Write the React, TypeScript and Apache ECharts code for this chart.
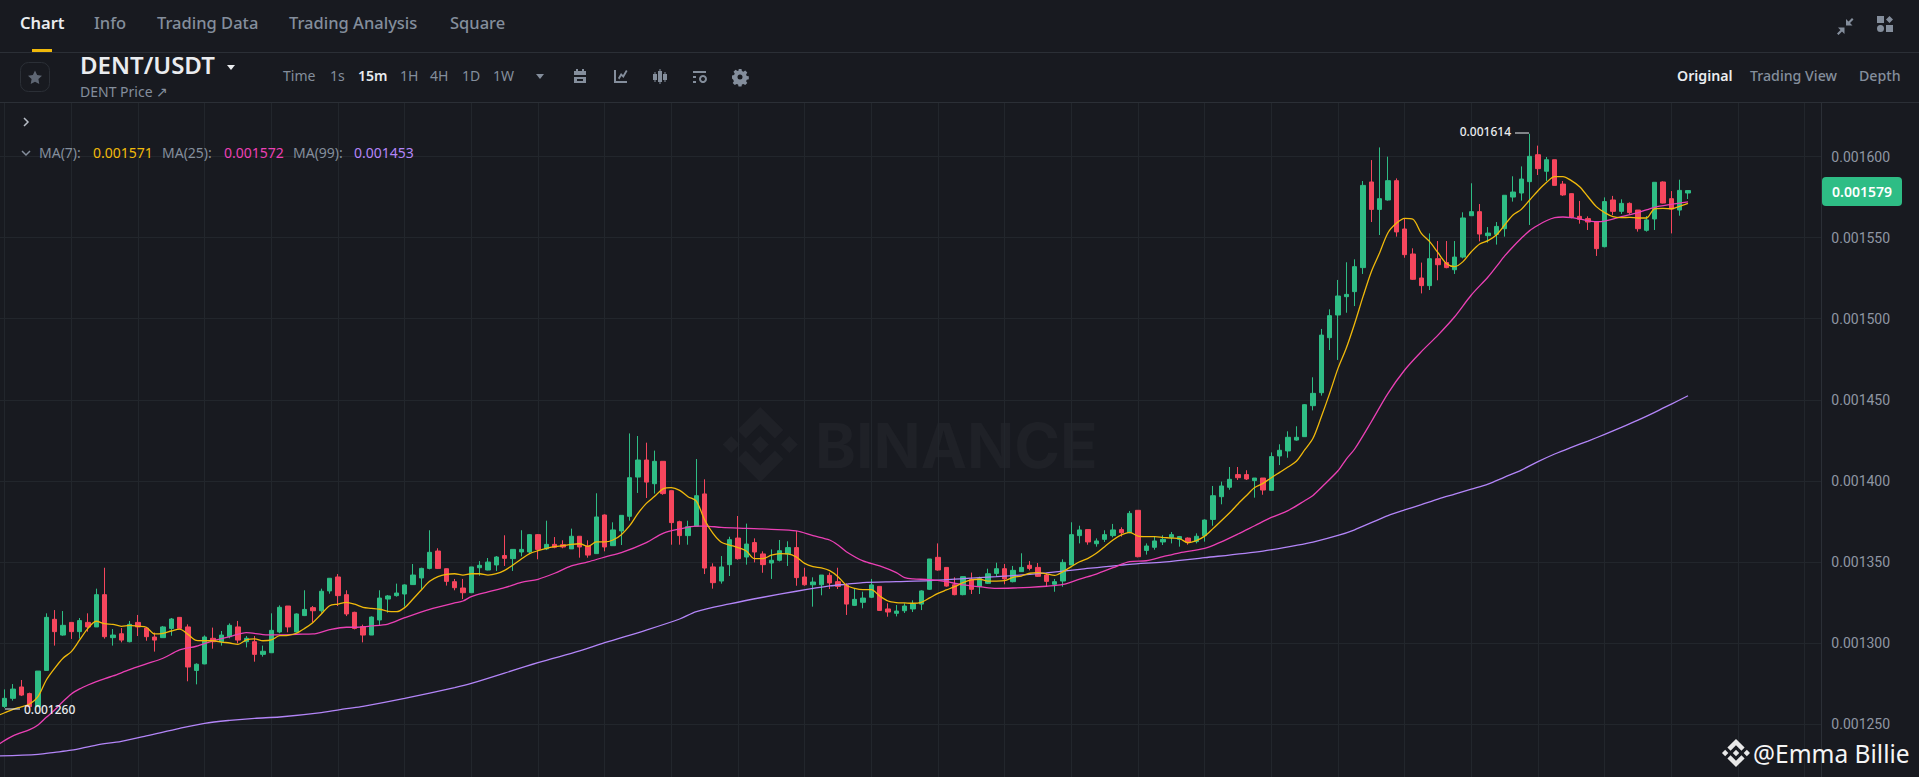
import React, { useEffect, useRef } from "react";
import * as echarts from "echarts";

// Prices are in millionths of a USDT (1579 = 0.001579). Candle 1 is the first on-screen candle.
const opens = [1261,1266,1273,1268.9,1260.9,1283.2,1314.7,1305,1312.8,1307.1,
1312.8,1310,1329.9,1303.4,1305.8,1300.9,1312.8,1309.3,1303.8,1303.4,
1309.1,1315.9,1310,1283.2,1287.2,1303,1300.9,1304,1310,1300.9,
1300.9,1293.1,1294.1,1306.9,1322.9,1306.9,1317,1321.9,1320,1332.2,
1340.8,1329.9,1319,1310.2,1305,1314.3,1327.2,1329.3,1330.3,1336.1,
1340.2,1346.1,1356.8,1345.9,1337.9,1334,1331.1,1346.5,1345.1,1348.2,
1354,1352.1,1356.2,1356.2,1366.9,1358.1,1360.9,1360.7,1358.1,1365.9,
1359.9,1355.2,1379,1360.1,1369.2,1378.2,1402.4,1412.9,1398.3,1412.1,
1394,1374.9,1366.3,1372,1392,1347,1338.3,1348.4,1364.8,1353.1,
1362,1355,1349.4,1351.1,1355,1358.9,1340.8,1336,1336,1341.8,
1337.9,1335.7,1323.3,1325.2,1328.3,1335,1321.1,1318.4,1320,1321.1,
1324.1,1333.2,1352.9,1346.7,1336,1329.9,1339.3,1334.8,1336.9,1343,
1345.9,1337.9,1344.1,1348,1346.7,1342,1336.3,1338.3,1348.2,1366.3,
1370,1361.3,1364,1366.3,1370,1368.1,1381.9,1357.2,1359.1,1362.4,
1365.2,1364,1364.8,1362.6,1366.3,1376.3,1390.3,1396.1,1403.9,1403.9,
1400.2,1401.8,1394.2,1415.4,1418.5,1425.2,1427.3,1446.4,1454.4,1488.3,
1502.3,1513.6,1516.7,1531.5,1584.3,1567.4,1573.2,1585.1,1555.3,1539.9,
1525.1,1520.4,1537,1534.6,1530.2,1538,1563.5,1566,1551.2,1552,
1555.5,1575,1577.5,1584.5,1601.1,1590.9,1598,1583,1577.1,1563.1,
1561.7,1559.6,1544.4,1573.2,1566.2,1571.1,1567,1554.5,1561.5,1584.3,
1574,1567,1577.5];

const closes = [1266,1271.7,1268,1260.9,1282.8,1315.9,1307.1,1311,1307.1,1313.9,
1310,1329.9,1304,1305,1301.9,1311.6,1310,1304,1301.9,1310,
1314.9,1309.1,1285.3,1287,1303.8,1300.9,1305,1311,1301.9,1303,
1293.1,1295,1307.9,1322.1,1310,1318,1320.8,1320,1332,1340,
1329.3,1318,1309.1,1305,1316.1,1327.8,1329.1,1330.9,1335.9,1342,
1346.1,1356,1346.1,1338.1,1334.2,1331.1,1347,1348,1350,1353.1,
1352.3,1357.8,1357.8,1366.9,1357.8,1360.9,1359.1,1359.3,1365.9,1359.3,
1354.3,1377.8,1359.3,1369.8,1378.8,1402,1412.9,1399.3,1412.1,1392.2,
1374.3,1366.3,1371.8,1390.9,1346.3,1337.3,1347,1363.8,1352.1,1361.1,
1356.2,1348.4,1351.1,1357,1358.9,1340.4,1336,1337.7,1342,1337.1,
1335,1324.1,1327,1327.8,1335.9,1320.2,1319.2,1319.8,1322.9,1324.1,
1332.2,1351.9,1345.1,1335.2,1329.9,1341,1333.2,1339.8,1342.8,1345.9,
1339.6,1344.9,1346.7,1346.1,1341.2,1338.1,1337.9,1349.8,1366.9,1369.8,
1362.4,1363,1366.9,1369.8,1368.1,1380,1353.3,1359.9,1363,1364,
1366.9,1365.7,1362.4,1365.9,1375.9,1390.9,1396.9,1401,1402,1401.2,
1401.8,1394.4,1415,1418.9,1426.9,1426.9,1447,1454,1489.9,1501.9,
1514,1515,1532.1,1582.2,1567.4,1574,1585.1,1553.5,1539.5,1524.3,
1520.4,1537,1533.3,1531.5,1538,1562.1,1566,1552.2,1552.8,1556.9,
1576.1,1578.1,1586.1,1600.1,1592.5,1598,1582.2,1576.3,1562.5,1561.3,
1559.6,1543.2,1572.2,1566.2,1571.1,1565.4,1555.5,1560.9,1584.1,1571.3,
1567.6,1579.1,1579];

const lows = [1260,1264.6,1267.4,1260.2,1260.9,1283.2,1298.5,1304.6,1302.6,1302.8,
1307.1,1310,1302.8,1298.5,1300.5,1300.5,1304.4,1301.5,1294.8,1303.4,
1304.6,1308.7,1276.5,1274.6,1287,1296.6,1298.5,1303,1299.9,1297.4,
1288.6,1291.7,1294.1,1306.1,1306.7,1306.5,1316.7,1312.8,1318.8,1330.5,
1322.9,1316.7,1308.5,1300.5,1305,1311.2,1318.8,1328.7,1322.5,1335.9,
1333.2,1345.5,1345.7,1335.5,1332.6,1327.2,1330.9,1341.6,1344.9,1344.5,
1347.6,1344.5,1353.5,1355.4,1351.7,1357.4,1358.5,1358.5,1358.1,1352.7,
1352.7,1355,1356.6,1360.1,1360.5,1375.5,1392.6,1389.5,1392.2,1391.5,
1360.7,1360.7,1360.7,1371.8,1342.6,1333.6,1336.7,1341.4,1351.5,1348.4,
1349.8,1343.4,1339.6,1350.4,1347.6,1335.4,1335.4,1322.5,1329.5,1333.4,
1333.4,1317.4,1322.9,1321.5,1327.8,1320,1316.3,1316.5,1318.6,1319.2,
1320.4,1332.8,1344.7,1334.8,1329.5,1329.5,1330.3,1330.3,1336.5,1341,
1336.3,1337.5,1343.9,1344.9,1340.8,1335.2,1331.7,1334.8,1348.2,1361.5,
1360.7,1359.5,1362.4,1365.2,1365.7,1367.7,1352.9,1354.6,1357.6,1360.5,
1361.5,1359.5,1360.7,1361.5,1362.6,1372.4,1385.6,1394.6,1400.6,1400.6,
1389.7,1391.5,1394,1409.8,1414.3,1424.8,1427.1,1443.5,1452.6,1480.7,
1474.6,1503.7,1507.8,1527.6,1559.6,1551.6,1572.8,1550.6,1537.6,1523.9,
1515.6,1517.7,1523.7,1531.1,1527.6,1537.2,1563.5,1547.7,1546.9,1545.7,
1550.6,1572.2,1572.8,1557.8,1588.6,1584.9,1582.2,1575.7,1561.9,1558.6,
1554.7,1538.7,1544,1563.9,1564.6,1564.6,1553.7,1553.7,1554.7,1571.1,
1552.6,1563.5,1573.8];

const highs = [1271.5,1274.8,1277.3,1269.5,1282.8,1318.4,1320.4,1319.8,1312.8,1315.5,
1318.4,1333.6,1346.5,1308.7,1309.3,1313.7,1317.4,1310,1306.5,1310.6,
1315.5,1315.9,1311.6,1287.6,1304.8,1309.6,1307.5,1312.2,1313.7,1304.4,
1304.4,1298.5,1318.4,1323.3,1322.9,1318.4,1332.6,1322.9,1333.6,1340,
1342.6,1332.6,1319.4,1311.4,1316.5,1332.6,1329.7,1336.7,1336.3,1348.8,
1346.5,1369.6,1358.5,1346.1,1339.6,1339.6,1347,1350.6,1352.5,1353.7,
1366.5,1357.8,1369.6,1367.3,1367.3,1375.5,1365.4,1363.4,1370.6,1365.9,
1363.4,1392.4,1379.4,1374.5,1378.8,1429.3,1427.7,1423.6,1418.7,1412.1,
1394,1375.5,1375.5,1413.5,1401,1349.2,1353.7,1365.6,1378.4,1373.7,
1364.6,1356.6,1357.8,1363.6,1362.8,1369.1,1346.5,1340.6,1342,1343.5,
1346.5,1336.9,1334,1331.7,1339.6,1335,1324.6,1323.5,1324.6,1326.4,
1332.6,1351.9,1361.5,1346.7,1340.6,1341.2,1343.5,1341,1345.9,1349.6,
1348.8,1347.6,1355.4,1350.6,1349.4,1343,1339.6,1351.7,1374.5,1372.4,
1370,1364.6,1369.6,1373.5,1371.4,1381.5,1381.9,1361.5,1365.7,1366.5,
1368.5,1366.1,1365.2,1367.7,1376.3,1396.9,1399.6,1408.6,1408.6,1406.6,
1401.8,1401.8,1417.6,1422.6,1430.6,1433.7,1447.4,1463.9,1493.7,1505.8,
1523.9,1534.8,1536.6,1584.9,1597.8,1605.6,1599.9,1586.5,1561.9,1543.4,
1534.6,1552.6,1547.9,1547.9,1547.9,1565.6,1583.5,1570.7,1556.5,1559.6,
1576.1,1587.8,1593.9,1614,1606.7,1599.7,1598,1584.9,1577.3,1572.6,
1563.1,1560.2,1574.8,1575.7,1573.6,1571.7,1567,1563.3,1584.1,1584.7,
1578.7,1585.7,1579];

// MA(7): one reading per index, starting with the off-screen index 0
const ma7Values = [1255,1257.1,1259.2,1260.8,1262.5,1267,1277.3,1284.5,1290.7,1294.8,
1302,1309.1,1313.5,1312,1311.6,1310.4,1311,1310.4,1309.8,1305.7,
1306.1,1307.5,1308.7,1305.4,1301.7,1301.5,1301.5,1300.7,1300.1,1299.3,
1302,1302.6,1301.5,1302,1304.6,1304.8,1306.1,1309.1,1312.8,1318,
1323.1,1324.1,1325.2,1324,1322.1,1321.5,1320.9,1319.6,1319.4,1321.9,
1327.2,1332.8,1338.1,1341,1342.4,1342.8,1342,1342.8,1342.8,1342,
1342.8,1344.9,1348.2,1351.9,1355.2,1357,1358.5,1359.5,1360.1,1360.9,
1361.3,1359.7,1362.4,1362.4,1363.6,1366.9,1372.4,1380,1386.2,1390.5,
1395.1,1395.9,1394.2,1390.3,1387.6,1375.9,1367.7,1362.2,1360.5,1358.9,
1356.8,1352.1,1352.1,1354.2,1355.2,1355,1353.1,1349.2,1347.2,1346.4,
1344.7,1341,1335.7,1333.8,1333,1333,1329.1,1326,1325,1324.8,
1324.6,1325.2,1327.9,1330.7,1332.8,1334.8,1337.3,1339,1339.4,1338.3,
1338.3,1338.5,1340.6,1341.4,1343.1,1343.5,1342.7,1341.8,1344.1,1347.2,
1350.2,1352.3,1355.4,1359.5,1363.6,1366.7,1368.3,1366,1365.7,1365.7,
1365.2,1364.8,1364.4,1361.9,1363.2,1366,1370.6,1375.5,1380.4,1385.8,
1390.9,1395.9,1398.5,1402,1405.3,1408.6,1412.1,1419.1,1426.3,1439.6,
1454,1469.4,1482,1497.1,1513.6,1529,1540.7,1553,1558.8,1561.9,
1561.3,1552.6,1547.5,1540.7,1534.1,1532.1,1535.2,1541.3,1546.1,1548.1,
1551.6,1557.8,1563.9,1567.4,1573.2,1578.9,1583.9,1587.6,1587.6,1585.1,
1581.4,1575.2,1569.1,1565.4,1562.9,1562.3,1562.5,1562.1,1562.1,1567.8,
1568,1567.8,1569.3,1571.1];

const ma25Index = [0,2,4,5,6,7,8,9,10,11,12,14,16,18,20,22,24,26,28,30,32,34,36,38,40,42,43,45,47,49,52,55,56,57,59,61,63,65,67,69,71,73,75,78,80,82,84,85,87,90,93,96,98,100,101,102,104,106,108,109,110,112,114,116,118,120,122,124,126,128,130,132,134,136,138,140,142,145,147,149,151,153,155,157,158,159,161,162,163,165,167,169,171,173,175,177,179,180,181,182,183,184,185,186,187,188,189,190,192,193,195,197,199,201,203];
const ma25Values = [1236.8,1242.8,1246.7,1249.6,1254.3,1258.8,1264,1268.7,1271.8,1274.2,1276.3,1279.8,1283.7,1287.2,1290.7,1295.8,1298.1,1301.4,1304,1306.5,1305.3,1305.1,1305.5,1305.7,1308.3,1309.8,1309.8,1310.6,1311.8,1315.7,1320.9,1324.8,1326,1328.7,1331.6,1334.2,1337.5,1339.4,1343.1,1347.6,1350.1,1353.1,1355.8,1362,1367.7,1370.4,1372.2,1372.2,1371.4,1370.8,1370.2,1369.2,1366.3,1363.6,1360.5,1356.4,1350.7,1347.6,1343.5,1340.4,1339.6,1339.2,1337.9,1335.9,1334.8,1333.8,1334,1334.4,1335.1,1336.2,1339.5,1342.6,1346.5,1350.2,1350.8,1353.3,1355.7,1358.4,1362.5,1367.3,1372.4,1377.5,1381.7,1387.8,1391.1,1396,1406.3,1413.5,1419.7,1436.5,1454,1468.4,1479.7,1489.9,1501.2,1514.6,1525.7,1532.1,1538.7,1544.4,1549.6,1554.3,1557.6,1560.4,1562.3,1562.7,1562.3,1561.5,1559.8,1560.2,1562.9,1565.4,1568.7,1570.5,1572];

const ma99Index = [0,5,7,9,12,15,18,22,25,28,31,34,39,42,44,49,55,57,65,70,73,78,82,84,88,92,96,100,102,104,108,112,116,120,124,126,130,136,140,145,152,156,158,161,163,165,167,169,171,173,175,177,179,181,183,185,187,189,191,193,195,197,199,201,203];
const ma99Values = [1230.4,1231.5,1232.7,1234,1237.2,1239.5,1242.8,1247.5,1250.6,1252.4,1253.7,1254.5,1257.2,1259.6,1261.1,1266,1272.6,1275.2,1288,1295.2,1300.3,1308.1,1314.9,1319.5,1324.2,1328.3,1332,1335.3,1336.3,1337.3,1337.9,1338.5,1339.8,1341,1342.4,1343.3,1345.5,1348.6,1350,1352.7,1356.8,1360.3,1362.3,1366.4,1369.9,1374.3,1378.6,1382.1,1385.4,1388.8,1391.9,1395,1398.1,1402.4,1406.7,1411.9,1416.6,1420.7,1424.6,1428.7,1433,1437.5,1442.3,1447.4,1452.5];

const CATEGORY_COUNT = 220;
const categories = Array.from({ length: CATEGORY_COUNT }, (_, i) => String(i));
const candleData = [["-", "-", "-", "-"], ...opens.map((o, k) => [o, closes[k], lows[k], highs[k]])];
const ma7Data = ma7Values.map((v, i) => [i, v]);
const ma25Data = ma25Values.map((v, k) => [ma25Index[k], v]);
const ma99Data = ma99Values.map((v, k) => [ma99Index[k], v]);

const tabs = [["Chart", 20, true], ["Info", 94, false], ["Trading Data", 157, false], ["Trading Analysis", 289, false], ["Square", 450, false]] as const;
const intervals = [["Time", 283, false], ["1s", 330, false], ["15m", 358, true], ["1H", 400, false], ["4H", 430, false], ["1D", 462, false], ["1W", 493, false]] as const;
const views = [["Original", 1677, true], ["Trading View", 1750, false], ["Depth", 1859, false]] as const;

const BG = "#181A20", GREEN = "#2EBD85", RED = "#F6465D", GREY = "#848E9C", LINE = "#2B2F36", GRID = "#22262C";
const MA7 = "#F0B90B", MA25 = "#EB40B5", MA99 = "#B385F8", WM = "#1F2127";
const FONT = '"Noto Sans", sans-serif';

const LOGO = "M12.116 14.404L16 10.52l3.886 3.886 2.26-2.26L16 6l-6.144 6.144 2.26 2.26zM6 16l2.26-2.26L10.52 16l-2.26 2.26L6 16zm6.116 1.596L16 21.48l3.886-3.886 2.26 2.259L16 26l-6.144-6.144-.003-.003 2.263-2.257zM21.48 16l2.26-2.26L26 16l-2.26 2.26L21.48 16zm-3.188-.002h.002V16L16 18.294l-2.291-2.29-.004-.004.004-.003.401-.402.195-.195L16 13.706l2.293 2.293z";
const reg = (n: string, d: string) => echarts.graphic.registerShape(n, echarts.graphic.extendPath(d, {}));
reg("bnLogo", LOGO);
reg("icStar", "M7 0l2.1 4.6 4.9.6-3.6 3.4.9 5L7 11.2l-4.3 2.4.9-5L0 5.2l4.9-.6z");
reg("icCal", "M4 0h2v2h4V0h2v2h2v4H2V2h2zM2 8h12v6H2zM5 10v2h6v-2z");
reg("icChart", "M2 1h2v11h11v2H2zM6 9l3-5 2 2 3-5 1.5 1-4 7-2-2-2.2 3.4z");
reg("icCandle", "M1 5h4v6H1zM2.5 3h1v10h-1zM6 2h4v11H6zM7.5 0h1v15h-1zM11 5h4v6h-4zM12.5 3h1v10h-1z");
reg("icSet", "M1 1h13v2H1zM1 6h3v2H1zM1 11h3v2H1z");
reg("icGear", "M6.5 0h3l.4 2.1 1.5.6 1.8-1.2 2.1 2.1-1.2 1.8.6 1.5 2.1.4v3l-2.1.4-.6 1.5 1.2 1.8-2.1 2.1-1.8-1.2-1.5.6-.4 2.1h-3l-.4-2.1-1.5-.6-1.8 1.2-2.1-2.1 1.2-1.8-.6-1.5L0 9.5v-3l2.1-.4.6-1.5L1.5 2.8l2.1-2.1 1.8 1.2 1.5-.6zM8 5.5a2.5 2.5 0 1 0 0 5a2.5 2.5 0 1 0 0-5z");
reg("icShrink", "M15 0l1.5 1.5-3.5 3.5 2.5 2.5H9V1l2.5 2.5zM1.5 17L0 15.5 3.5 12 1 9.5h6.5V16L5 13.5z");
reg("icApps", "M0 0h7v7H0zM12.5 0l3.5 3.5-3.5 3.5L9 3.5zM3.5 9a3.5 3.5 0 1 1 0 7a3.5 3.5 0 1 1 0-7zM9 9h7v7H9z");

const txt = (text: string, x: number, y: number, fill: string, size: number, weight = 400, align = "left", z = 101, family = FONT) => ({
  type: "text", x, y, z, silent: true,
  style: { text, fill, font: `${weight} ${size}px ${family}`, textAlign: align, textVerticalAlign: "middle" },
});
const shape = (type: string, x: number, y: number, fill: string, scale = 1, z = 101) => ({
  type, x, y, z, silent: true, scaleX: scale, scaleY: scale, style: { fill },
});
const rect = (x: number, y: number, w: number, h: number, fill: string, z = 101, r = 0) => ({
  type: "rect", z, silent: true, shape: { x, y, width: w, height: h, r }, style: { fill },
});
const seg = (x1: number, y1: number, x2: number, y2: number, stroke: string, width = 1, z = 101) => ({
  type: "line", z, silent: true, shape: { x1, y1, x2, y2 }, style: { stroke, lineWidth: width },
});
const chev = (pts: number[][], stroke: string) => ({
  type: "polyline", z: 101, silent: true, shape: { points: pts }, style: { stroke, lineWidth: 1.5, fill: "none" },
});

function buildGraphic() {
  return [
    // watermark, under the grid
    shape("bnLogo", 700.1, 384.4, WM, 3.76, -1),
    { ...txt("BINANCE", 815, 445, WM, 62, 700, "left", -1, "Inter, sans-serif") },
    // header
    rect(0, 0, 1919, 102, BG, 100),
    seg(0, 52.5, 1919, 52.5, LINE),
    seg(0, 102.5, 1919, 102.5, LINE),
    rect(32, 49, 20, 3, MA7),
    ...tabs.map(([t, x, on]) => txt(t, x, 22, on ? "#EAECEF" : GREY, 16.5, on ? 600 : 500)),
    txt("DENT/USDT", 80, 64, "#EAECEF", 24, 600),
    { type: "polygon", z: 101, silent: true, shape: { points: [[227, 65], [235, 65], [231, 70]] }, style: { fill: "#EAECEF" } },
    txt("DENT Price \u2197", 80, 91, GREY, 14),
    { type: "rect", z: 101, silent: true, shape: { x: 20.5, y: 62.5, width: 29, height: 29, r: 8 }, style: { fill: "none", stroke: LINE } },
    shape("icStar", 28, 70.5, "#5E6673", 1),
    ...intervals.map(([t, x, on]) => txt(t, x, 75, on ? "#EAECEF" : GREY, 14, on ? 600 : 400)),
    { type: "polygon", z: 101, silent: true, shape: { points: [[536, 74], [544, 74], [540, 79]] }, style: { fill: GREY } },
    shape("icCal", 572, 69, GREY),
    shape("icChart", 612, 69, GREY),
    shape("icCandle", 652, 69, GREY),
    shape("icSet", 692, 70, GREY),
    { type: "ring", z: 101, silent: true, shape: { cx: 703, cy: 79, r: 4, r0: 2 }, style: { fill: GREY } },
    shape("icGear", 732, 69, GREY),
    shape("icShrink", 1837, 18, GREY),
    shape("icApps", 1877, 16, GREY),
    ...views.map(([t, x, on]) => txt(t, x, 75, on ? "#EAECEF" : GREY, 14.2, on ? 600 : 500)),
    // overlay legend
    chev([[24, 118], [28, 122], [24, 126]], "#B7BDC6"),
    chev([[22, 151], [26, 155], [30, 151]], GREY),
    txt("MA(7):", 39, 152, GREY, 14),
    txt("0.001571", 93, 152, MA7, 14),
    txt("MA(25):", 162, 152, GREY, 14),
    txt("0.001572", 224, 152, MA25, 14),
    txt("MA(99):", 293, 152, GREY, 14),
    txt("0.001453", 354, 152, MA99, 14),
    // high / low callouts
    txt("0.001614", 1511, 131, "#EAECEF", 12, 500, "right", 50),
    seg(1515, 133, 1529, 133, "#EAECEF", 1, 50),
    txt("0.001260", 24, 709, "#EAECEF", 12, 500, "left", 50),
    seg(5, 709, 20, 709, "#EAECEF", 1, 50),
    // last price tag
    rect(1822, 177, 80, 29, GREEN, 50, 4),
    txt("0.001579", 1862, 191, "#FFFFFF", 14, 600, "center", 51),
    // author stamp
    shape("bnLogo", 1713.6, 730.6, "#E8E8E8", 1.4, 60),
    txt("@Emma Billie", 1753, 753, "#F5F5F5", 24.5, 400, "left", 60),
  ];
}

export default function App() {
  const ref = useRef<HTMLDivElement>(null);
  useEffect(() => {
    const chart = echarts.init(ref.current!, undefined, { renderer: "svg" });
    const lineSeries = (name: string, data: number[][], color: string) => ({
      name, type: "line", data, showSymbol: false, smooth: 0.3, connectNulls: true, silent: true,
      lineStyle: { color, width: 1.3 }, itemStyle: { color }, z: 5,
    });
    chart.setOption({
      animation: false,
      backgroundColor: BG,
      tooltip: { show: false },
      grid: { left: -3.67, top: 75.39, width: 1825, height: 730, containLabel: false, outerBoundsMode: "none" },
      xAxis: {
        type: "category", data: categories, boundaryGap: false,
        axisLine: { show: false }, axisTick: { show: false }, axisLabel: { show: false },
        splitLine: { show: true, interval: (index: number) => (index - 1) % 8 === 0, lineStyle: { color: GRID, width: 1 } },
      },
      yAxis: {
        type: "value", position: "right", min: 1200, max: 1650, interval: 50, scale: true,
        axisLine: { show: true, lineStyle: { color: LINE } }, axisTick: { show: false },
        axisLabel: {
          color: "#8F96A3", fontFamily: "Roboto, sans-serif", fontSize: 14, margin: 10,
          formatter: (v: number) => (v === 1200 || v === 1650 ? "" : (v / 1e6).toFixed(6)),
        },
        splitLine: { show: true, lineStyle: { color: GRID, width: 1 } },
      },
      graphic: { elements: buildGraphic() },
      series: [
        {
          name: "DENT/USDT", type: "candlestick", data: candleData, barWidth: 5, silent: true, z: 3,
          itemStyle: { color: GREEN, color0: RED, borderColor: GREEN, borderColor0: RED, borderWidth: 1 },
        },
        lineSeries("MA(99)", ma99Data, MA99),
        lineSeries("MA(25)", ma25Data, MA25),
        lineSeries("MA(7)", ma7Data, MA7),
      ],
    });
    return () => chart.dispose();
  }, []);
  return (
    <>
      <style>{`html,body{margin:0;padding:0;background:${BG};overflow:hidden}`}</style>
      <div ref={ref} style={{ width: 1919, height: 777 }} />
    </>
  );
}
